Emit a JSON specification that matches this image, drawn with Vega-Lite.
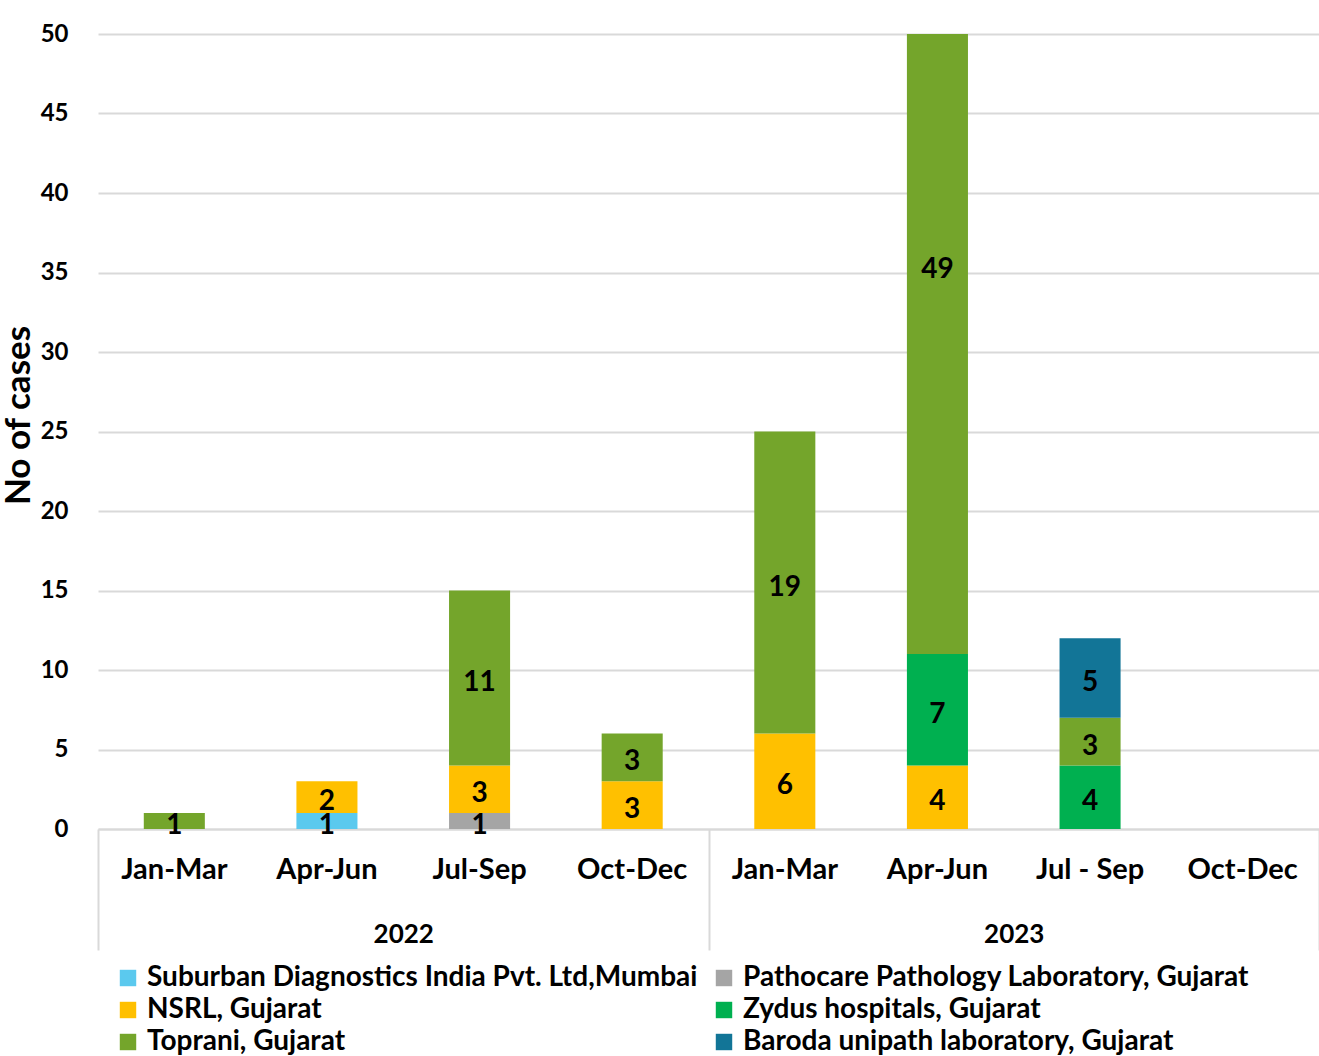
{
  "$schema": "https://vega.github.io/schema/vega-lite/v6.json",
  "width": 1221,
  "height": 795,
  "autosize": {"type": "none"},
  "padding": {"left": 98, "top": 34, "right": 0, "bottom": 227},
  "background": "white",
  "config": {
    "font": "Lato",
    "view": {"stroke": null}
  },
  "datasets": {
    "cases": [
      {"key": "2022|Jan-Mar", "lab": "Toprani, Gujarat", "n": 1},
      {"key": "2022|Apr-Jun", "lab": "Suburban Diagnostics India Pvt. Ltd,Mumbai", "n": 1},
      {"key": "2022|Apr-Jun", "lab": "NSRL, Gujarat", "n": 2},
      {"key": "2022|Jul-Sep", "lab": "Pathocare Pathology Laboratory, Gujarat", "n": 1},
      {"key": "2022|Jul-Sep", "lab": "NSRL, Gujarat", "n": 3},
      {"key": "2022|Jul-Sep", "lab": "Toprani, Gujarat", "n": 11},
      {"key": "2022|Oct-Dec", "lab": "NSRL, Gujarat", "n": 3},
      {"key": "2022|Oct-Dec", "lab": "Toprani, Gujarat", "n": 3},
      {"key": "2023|Jan-Mar", "lab": "NSRL, Gujarat", "n": 6},
      {"key": "2023|Jan-Mar", "lab": "Toprani, Gujarat", "n": 19},
      {"key": "2023|Apr-Jun", "lab": "NSRL, Gujarat", "n": 4},
      {"key": "2023|Apr-Jun", "lab": "Zydus hospitals, Gujarat", "n": 7},
      {"key": "2023|Apr-Jun", "lab": "Toprani, Gujarat", "n": 49},
      {"key": "2023|Jul - Sep", "lab": "Zydus hospitals, Gujarat", "n": 4},
      {"key": "2023|Jul - Sep", "lab": "Toprani, Gujarat", "n": 3},
      {"key": "2023|Jul - Sep", "lab": "Baroda unipath laboratory, Gujarat", "n": 5}
    ],
    "years": [{"year": "2022"}, {"year": "2023"}]
  },
  "layer": [
    {
      "data": {"name": "cases"},
      "transform": [
        {"calculate": "indexof(['Suburban Diagnostics India Pvt. Ltd,Mumbai','Pathocare Pathology Laboratory, Gujarat','NSRL, Gujarat','Zydus hospitals, Gujarat','Toprani, Gujarat','Baroda unipath laboratory, Gujarat'], datum.lab)", "as": "o"}
      ],
      "layer": [
        {
          "mark": {"type": "bar", "clip": true},
          "encoding": {
            "x": {
              "field": "key",
              "type": "ordinal",
              "scale": {
                "domain": ["2022|Jan-Mar", "2022|Apr-Jun", "2022|Jul-Sep", "2022|Oct-Dec", "2023|Jan-Mar", "2023|Apr-Jun", "2023|Jul - Sep", "2023|Oct-Dec"],
                "paddingInner": 0.6,
                "paddingOuter": 0.3
              },
              "axis": {
                "title": null,
                "orient": "bottom",
                "labelExpr": "split(datum.value, '|')[1]",
                "labelAngle": 0,
                "labelFontSize": 29,
                "labelFontWeight": "bold",
                "labelColor": "black",
                "labelPadding": 26,
                "ticks": false,
                "domain": true,
                "domainColor": "#d9d9d9",
                "domainWidth": 2,
                "grid": false
              }
            },
            "y": {
              "field": "n",
              "type": "quantitative",
              "stack": "zero",
              "scale": {"domain": [0, 50], "nice": false},
              "axis": {
                "title": "No of cases",
                "titleFontSize": 35,
                "titleFontWeight": "bold",
                "titleColor": "black",
                "titleAngle": -90,
                "titleAlign": "center",
                "titleBaseline": "middle",
                "titleX": -80,
                "titleY": 381,
                "values": [0, 5, 10, 15, 20, 25, 30, 35, 40, 45, 50],
                "labelFontSize": 24,
                "labelFontWeight": "bold",
                "labelColor": "black",
                "labelPadding": 30,
                "ticks": false,
                "domain": false,
                "grid": true,
                "gridColor": "#d9d9d9",
                "gridWidth": 2
              }
            },
            "color": {
              "field": "lab",
              "type": "nominal",
              "scale": {
                "domain": ["Suburban Diagnostics India Pvt. Ltd,Mumbai", "Pathocare Pathology Laboratory, Gujarat", "NSRL, Gujarat", "Zydus hospitals, Gujarat", "Toprani, Gujarat", "Baroda unipath laboratory, Gujarat"],
                "range": ["#5bc9ee", "#a5a5a5", "#ffc000", "#00b050", "#74a52b", "#127597"]
              },
              "legend": {
                "title": null,
                "orient": "none",
                "legendX": 16,
                "legendY": 930,
                "direction": "horizontal",
                "columns": 2,
                "columnPadding": 12,
                "rowPadding": 4,
                "symbolType": "square",
                "symbolSize": 270,
                "symbolStrokeWidth": 0,
                "symbolOpacity": 1,
                "labelFontSize": 28,
                "labelFontWeight": "bold",
                "labelColor": "black",
                "labelLimit": 0,
                "labelOffset": 5
              }
            },
            "order": {"field": "o", "type": "quantitative"}
          }
        },
        {
          "transform": [
            {"stack": "n", "groupby": ["key"], "sort": [{"field": "o", "order": "ascending"}], "as": ["lo", "hi"]},
            {"calculate": "(datum.lo + datum.hi) / 2", "as": "mid"}
          ],
          "mark": {"type": "text", "fontSize": 28, "fontWeight": "bold", "color": "black", "baseline": "middle", "dy": 5},
          "encoding": {
            "x": {
              "field": "key",
              "type": "ordinal",
              "scale": {
                "domain": ["2022|Jan-Mar", "2022|Apr-Jun", "2022|Jul-Sep", "2022|Oct-Dec", "2023|Jan-Mar", "2023|Apr-Jun", "2023|Jul - Sep", "2023|Oct-Dec"],
                "paddingInner": 0.6,
                "paddingOuter": 0.3
              }
            },
            "y": {"field": "mid", "type": "quantitative", "scale": {"domain": [0, 50], "nice": false}},
            "text": {"field": "n", "type": "quantitative"}
          }
        }
      ]
    },
    {
      "data": {"name": "years"},
      "mark": {"type": "text", "text": ""},
      "encoding": {
        "x": {
          "field": "year",
          "type": "ordinal",
          "scale": {"paddingInner": 0, "paddingOuter": 0},
          "axis": {
            "title": null,
            "orient": "bottom",
            "labelAngle": 0,
            "labelFontSize": 26,
            "labelFontWeight": "bold",
            "labelColor": "black",
            "labelBaseline": "top",
            "labelPadding": -29,
            "ticks": true,
            "tickBand": "extent",
            "tickSize": 121,
            "tickColor": "#d9d9d9",
            "tickWidth": 2,
            "domain": false,
            "grid": false
          }
        }
      }
    }
  ],
  "resolve": {"scale": {"x": "independent"}, "axis": {"x": "independent"}}
}
